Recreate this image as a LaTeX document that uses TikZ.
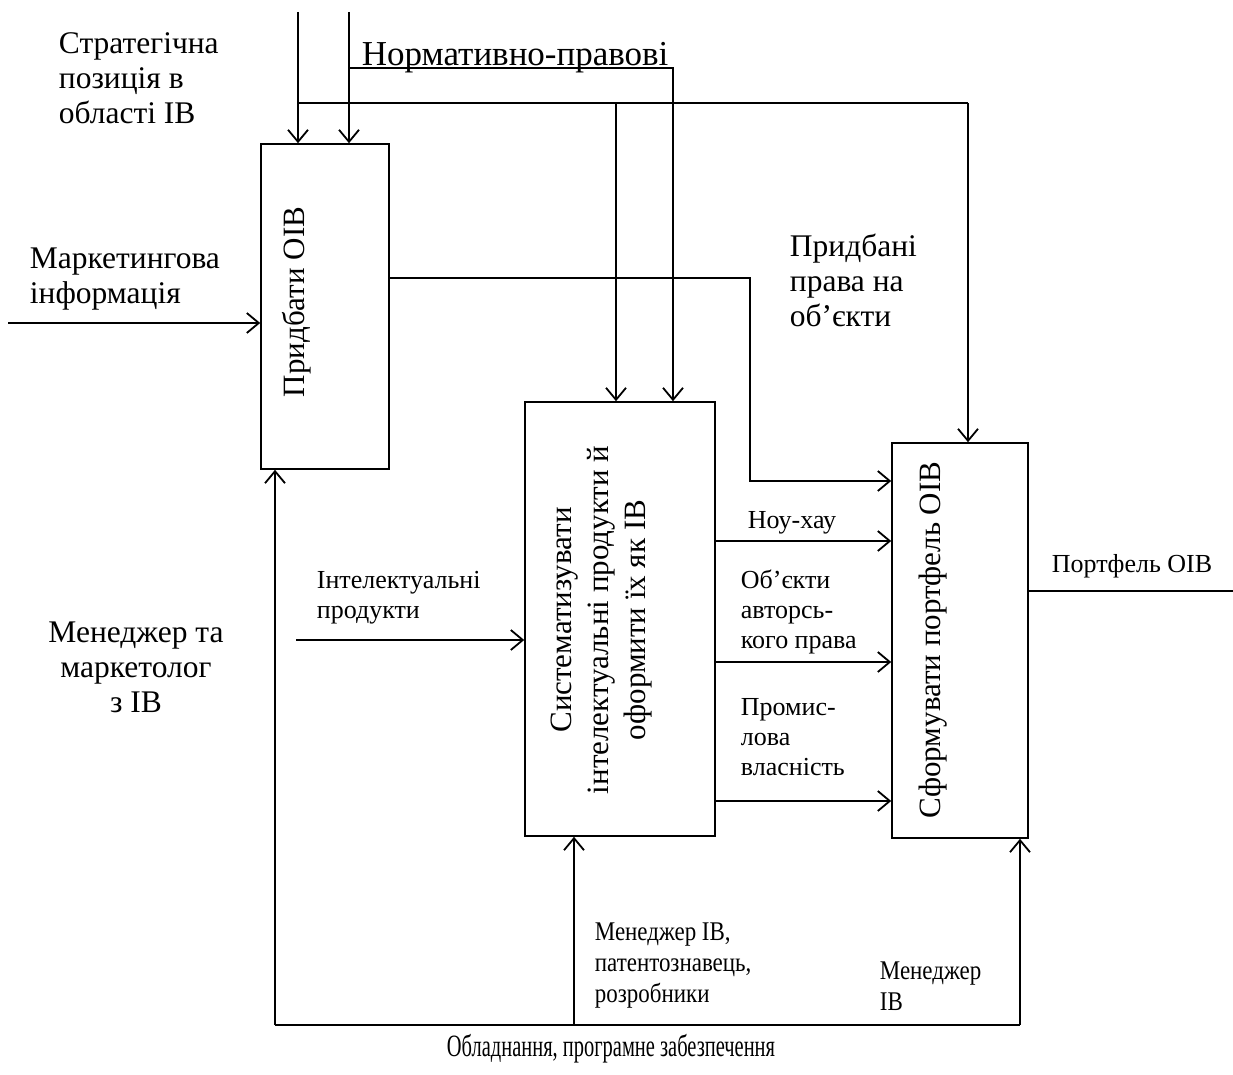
\documentclass[tikz,border=0pt]{standalone}
\usepackage{fontspec}
\setmainfont{Liberation Serif}
\newfontfamily\condfont[FakeStretch=0.85]{Liberation Serif}
\newfontfamily\narrowfont[FakeStretch=0.66]{Liberation Serif}
\usetikzlibrary{arrows.meta}
\begin{document}
\begin{tikzpicture}[x=1pt,y=-1pt,
  line width=1.8pt,
  arr/.style={-{Straight Barb[length=12pt,width=20pt,line width=1.8pt]}},
  procbox/.style={draw,line width=1.6pt,inner sep=0pt},
  bigtxt/.style={font=\fontsize{31.5}{35}\selectfont,inner sep=0pt,align=left},
  midtxt/.style={font=\fontsize{26}{30}\selectfont,inner sep=0pt,align=left},
  condtxt/.style={font=\condfont\fontsize{27}{31}\selectfont,inner sep=0pt,align=left},
  rottxt/.style={font=\fontsize{31}{37}\selectfont,inner sep=0pt,align=center,rotate=90}]
\useasboundingbox (0,0) rectangle (1233,1075);

% boxes
\node[procbox,minimum width=128pt,minimum height=325pt] (b1) at (325,306.5) {};
\node[procbox,minimum width=190pt,minimum height=434pt] (b2) at (620,619) {};
\node[procbox,minimum width=136pt,minimum height=395pt] (b3) at (960,640.5) {};

\node[rottxt] (t1) at (297,302) {Придбати ОІВ};
\node[rottxt] (t2) at (602,620) {Систематизувати\\інтелектуальні продукти й\\оформити їх як ІВ};
\node[rottxt] (t3) at (933,640) {Сформувати портфель ОІВ};

% coordinates
\coordinate (s0) at (298,12);
\coordinate (s1) at (298,103);
\coordinate (s2) at (616,103);
\coordinate (s3) at (968,103);
\coordinate (n0) at (349,12);
\coordinate (n1) at (349,68);
\coordinate (n2) at (673,68);
\coordinate (m0) at (8,323);
\coordinate (o1) at (750,278);
\coordinate (o2) at (750,481);
\coordinate (ip) at (296,640);
\coordinate (pf) at (1233,591);
\coordinate (g1) at (275,1025);
\coordinate (g2) at (574,1025);
\coordinate (g3) at (1020,1025);

% controls
\draw[arr] (s0) -- (s0 |- b1.north);
\draw[arr] (n0) -- (n0 |- b1.north);
\draw (s1) -- (s3);
\draw[arr] (s3) -- (s3 |- b3.north);
\draw[arr] (s2) -- (s2 |- b2.north);
\draw[arr] (n1) -- (n2) -- (n2 |- b2.north);

% inputs
\draw[arr] (m0) -- (m0 -| b1.west);
\draw[arr] (b1.east |- o1) -- (o1) -- (o2) -- (o2 -| b3.west);
\draw[arr] (ip) -- (ip -| b2.west);

% outputs of b2
\draw[arr] (b2.east |- 0,541) -- (b3.west |- 0,541);
\draw[arr] (b2.east |- 0,662) -- (b3.west |- 0,662);
\draw[arr] (b2.east |- 0,801) -- (b3.west |- 0,801);

% output of b3
\draw (b3.east |- pf) -- (pf);

% mechanisms
\draw (g1) -- (g3);
\draw[arr] (g1) -- (g1 |- b1.south);
\draw[arr] (g2) -- (g2 |- b2.south);
\draw[arr] (g3) -- (g3 |- b3.south);

% labels
\node[bigtxt,anchor=west] (l1) at (58,78) {Стратегічна\\позиція в\\області ІВ};
\node[bigtxt,anchor=base west,font=\fontsize{35}{38}\selectfont] (l2) at (361,66) {Нормативно-правові};
\node[bigtxt,anchor=west] (l3) at (29,279) {Маркетингова\\інформація};
\node[bigtxt,anchor=center,align=center] (l4) at (136,667) {Менеджер та\\маркетолог\\з ІВ};
\node[bigtxt,anchor=west] (l5) at (789,280) {Придбані\\права на\\об’єкти};
\node[midtxt,anchor=west] (l6) at (316,598) {Інтелектуальні\\продукти};
\node[midtxt,anchor=west] (l7) at (747,523) {Ноу-хау};
\node[midtxt,anchor=west] (l8) at (740,612) {Об’єкти\\авторсь-\\кого права};
\node[midtxt,anchor=west] (l9) at (740,737) {Промис-\\лова\\власність};
\node[midtxt,anchor=west] (l10) at (1051,566) {Портфель ОІВ};
\node[condtxt,anchor=west] (l11) at (594,966) {Менеджер ІВ,\\патентознавець,\\розробники};
\node[condtxt,anchor=west] (l12) at (879,986) {Менеджер\\ІВ};
\node[condtxt,anchor=center,font=\narrowfont\fontsize{31}{34}\selectfont] (l13) at (611,1049) {Обладнання, програмне забезпечення};
\end{tikzpicture}
\end{document}
